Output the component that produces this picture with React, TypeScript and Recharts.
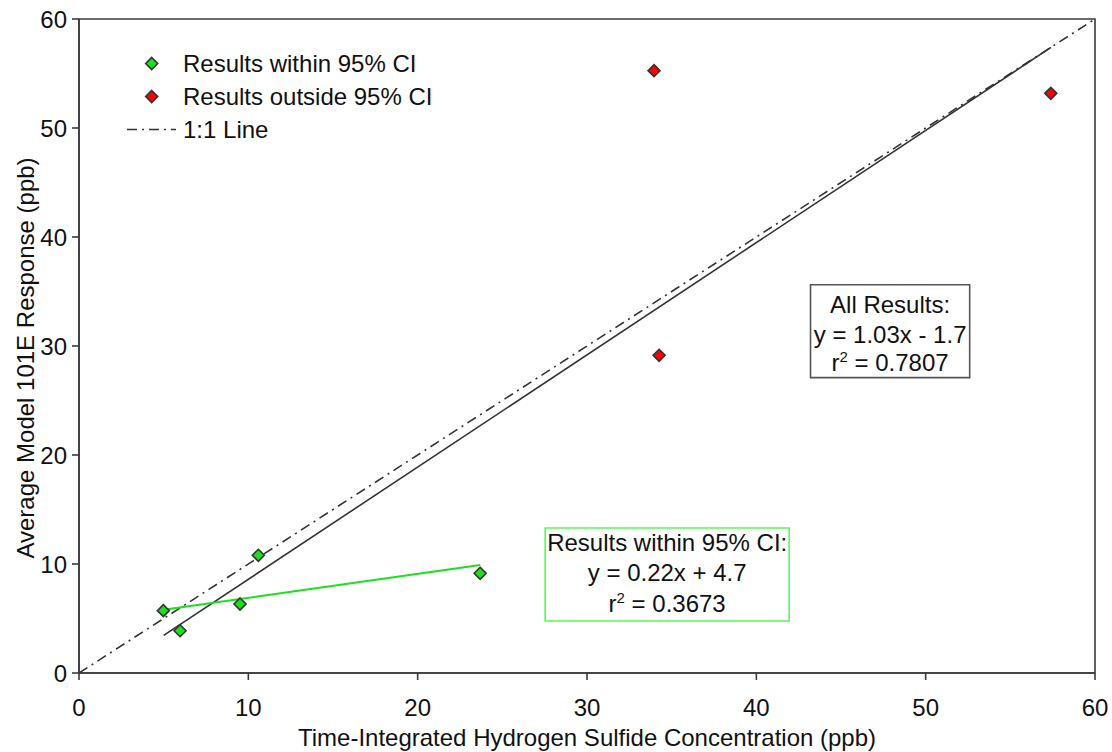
import {
  ScatterChart,
  Scatter,
  XAxis,
  YAxis,
  ReferenceArea,
  Legend,
} from "recharts";

// measured data (ppb)
const withinX = [4.98, 5.97, 9.51, 10.59, 23.69];
const withinY = [5.72, 3.88, 6.33, 10.8, 9.15];
const outsideX = [33.96, 34.26, 57.39];
const outsideY = [55.26, 29.15, 53.18];

// line end points
const oneToOneX = [0, 60];
const oneToOneY = [0, 60];
const allFitX = [5, 57.4];
const allFitY = [3.45, 57.4];
const withinFitX = [5, 23.7];
const withinFitY = [5.8, 9.9];

const axisTicks = [0, 10, 20, 30, 40, 50, 60];

const allResultsText = ["All Results:", "y = 1.03x - 1.7", "0.7807"];
const withinText = ["Results within 95% CI:", "y = 0.22x + 4.7", "0.3673"];

const legendItems = [
  { label: "Results within 95% CI", kind: "diamond", color: "#1be01b" },
  { label: "Results outside 95% CI", kind: "diamond", color: "#ff0000" },
  { label: "1:1 Line", kind: "line", color: "#333333" },
];

const zip = (xs: number[], ys: number[]) => xs.map((x, i) => ({ x, y: ys[i] }));

const FONT = "'Liberation Sans', Arial, sans-serif";
const FS = 24;
const AXIS = "#3a3a3a";
const GREEN = "#1be01b";

function Diamond(props: any) {
  const { cx, cy, fill } = props;
  if (cx == null || cy == null) return <g />;
  const r = 6;
  return (
    <polygon
      points={`${cx},${cy - r} ${cx + r},${cy} ${cx},${cy + r} ${cx - r},${cy}`}
      fill={fill}
      stroke="#333"
      strokeWidth={1.6}
    />
  );
}

const NoDot = () => <g />;

function BoxText(props: any) {
  const { viewBox, lines, offs } = props;
  if (!viewBox) return null;
  const cx = viewBox.x + viewBox.width / 2;
  const top = viewBox.y;
  return (
    <g fontFamily={FONT} fontSize={FS} fill="#111" textAnchor="middle">
      <text x={cx} y={top + offs[0]} dy="0.35em">
        {lines[0]}
      </text>
      <text x={cx} y={top + offs[1]} dy="0.35em">
        {lines[1]}
      </text>
      <text x={cx} y={top + offs[2]} dy="0.35em">
        <tspan>r</tspan>
        <tspan dy={-9} fontSize={15}>
          2
        </tspan>
        <tspan dy={9}>{` = ${lines[2]}`}</tspan>
      </text>
    </g>
  );
}

function YTitle(props: any) {
  const { viewBox } = props;
  if (!viewBox) return null;
  const x = viewBox.x + 26;
  const y = 358;
  return (
    <text
      x={x}
      y={y}
      dy="0.35em"
      transform={`rotate(-90 ${x} ${y})`}
      textAnchor="middle"
      fontFamily={FONT}
      fontSize={FS}
      fill="#111"
    >
      Average Model 101E Response (ppb)
    </text>
  );
}

function LegendBox() {
  return (
    <div style={{ fontFamily: FONT, fontSize: FS, color: "#111" }}>
      {legendItems.map((it) => (
        <div
          key={it.label}
          style={{ display: "flex", alignItems: "center", height: 33 }}
        >
          <svg width={60} height={33} style={{ display: "block" }}>
            {it.kind === "diamond" ? (
              <Diamond cx={31.7} cy={16.5} fill={it.color} />
            ) : (
              <line
                x1={7}
                y1={16.5}
                x2={56}
                y2={16.5}
                stroke={it.color}
                strokeWidth={1.6}
                strokeDasharray="10 5 2 5"
              />
            )}
          </svg>
          <span style={{ marginLeft: 3, whiteSpace: "nowrap" }}>{it.label}</span>
        </div>
      ))}
    </div>
  );
}

export default function App() {
  return (
    <div style={{ position: "absolute", left: 0, top: 0, background: "#fff" }}>
      <ScatterChart
        width={1112}
        height={752}
        margin={{ top: 19, right: 17, left: 0, bottom: 0 }}
      >
        <XAxis
          type="number"
          dataKey="x"
          domain={[0, 60]}
          ticks={axisTicks}
          allowDataOverflow
          height={79}
          stroke={AXIS}
          strokeWidth={1.6}
          tickSize={7}
          tickMargin={19}
          tick={{ fontSize: FS, fill: "#111", fontFamily: FONT }}
          label={{
            value: "Time-Integrated Hydrogen Sulfide Concentration (ppb)",
            position: "insideBottom",
            offset: 6,
            style: { fontSize: FS, fill: "#111", fontFamily: FONT },
          }}
        />
        <YAxis
          type="number"
          dataKey="y"
          domain={[0, 60]}
          ticks={axisTicks}
          allowDataOverflow
          width={79}
          stroke={AXIS}
          strokeWidth={1.6}
          tickSize={7}
          tickMargin={5}
          tick={{ fontSize: FS, fill: "#111", fontFamily: FONT }}
          label={<YTitle />}
        />
        <ReferenceArea
          x1={0}
          x2={60}
          y1={0}
          y2={60}
          fill="none"
          stroke={AXIS}
          strokeWidth={1.6}
        />
        <Scatter
          data={zip(oneToOneX, oneToOneY)}
          shape={NoDot}
          line={{ stroke: "#333", strokeWidth: 1.6, strokeDasharray: "10 5 2 5" }}
          isAnimationActive={false}
          legendType="none"
        />
        <Scatter
          data={zip(allFitX, allFitY)}
          shape={NoDot}
          line={{ stroke: "#333", strokeWidth: 1.6 }}
          isAnimationActive={false}
          legendType="none"
        />
        <Scatter
          data={zip(withinFitX, withinFitY)}
          shape={NoDot}
          line={{ stroke: GREEN, strokeWidth: 2 }}
          isAnimationActive={false}
          legendType="none"
        />
        <Scatter
          data={zip(withinX, withinY)}
          fill={GREEN}
          shape={<Diamond />}
          isAnimationActive={false}
        />
        <Scatter
          data={zip(outsideX, outsideY)}
          fill="#ff0000"
          shape={<Diamond />}
          isAnimationActive={false}
        />
        <ReferenceArea
          x1={43.2}
          x2={52.6}
          y1={27.1}
          y2={35.62}
          fill="#fff"
          fillOpacity={1}
          stroke="#555"
          strokeWidth={1.6}
          label={<BoxText lines={allResultsText} offs={[20, 50, 78]} />}
        />
        <ReferenceArea
          x1={27.53}
          x2={41.94}
          y1={4.77}
          y2={13.3}
          fill="#fff"
          fillOpacity={1}
          stroke="#5cf55c"
          strokeWidth={1.6}
          label={<BoxText lines={withinText} offs={[15, 45, 76]} />}
        />
        <Legend
          layout="vertical"
          align="center"
          verticalAlign="middle"
          content={<LegendBox />}
          wrapperStyle={{ position: "absolute", left: 120, top: 47, width: 340 }}
        />
      </ScatterChart>
    </div>
  );
}
